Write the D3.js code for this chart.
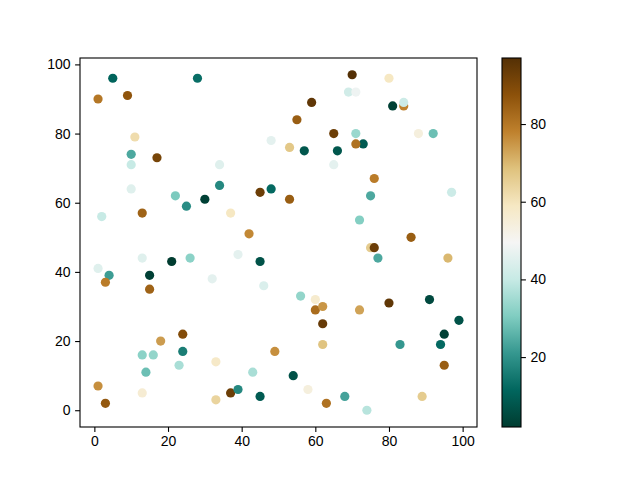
<!DOCTYPE html>
<html lang="en">
<head>
<meta charset="UTF-8">
<title>Scatter with colorbar</title>
<style>
    body { margin: 0; background: #fff; }
    svg { display: block; }
    text { font-family: 'Liberation Sans', Arial, sans-serif; font-size: 14px; fill: #000; }
</style>
</head>
<body>
<svg id="chart" width="640" height="480"></svg>
<script src="https://d3js.org/d3.v7.min.js"></script>
<script>
    // point data, in drawing order (later points sit on top)
    const xs = [5, 28, 1, 9, 11, 10, 10, 17, 10, 2, 13, 22, 25, 30, 34, 34, 37, 42, 45, 48, 48,
        70, 80, 69, 71, 59, 81, 84, 84, 55, 65, 71, 88, 92, 53, 57, 66, 73, 71, 65, 53, 76, 75, 97, 72, 86,
        13, 21, 26, 39, 45, 1, 4, 3, 15, 15, 32, 46, 18, 24, 24, 13, 16, 14, 23, 33, 49, 43, 1, 3, 13, 37, 39, 33, 45,
        75, 76, 77, 96, 56, 60, 60, 62, 72, 80, 91, 99, 62, 95, 62, 83, 94, 95, 54, 58, 68, 89, 63, 74];
    const ys = [96, 96, 90, 91, 79, 74, 71, 73, 64, 56, 57, 62, 59, 61, 65, 71, 57, 51, 63, 64, 78,
        97, 96, 92, 92, 89, 88, 88, 89, 84, 80, 80, 80, 80, 76, 75, 75, 77, 77, 71, 61, 67, 62, 63, 55, 50,
        44, 43, 44, 45, 43, 41, 39, 37, 39, 35, 38, 36, 20, 22, 17, 16, 16, 11, 13, 14, 17, 11, 7, 2, 5, 5, 6, 3, 4,
        47, 47, 44, 44, 33, 32, 29, 30, 29, 31, 32, 26, 25, 22, 19, 19, 19, 13, 10, 6, 4, 4, 2, 0];
    const cs = [11, 13, 80, 87, 62, 24, 40, 91, 45, 40, 84, 30, 19, 3, 18, 45, 59, 77, 93, 12, 46,
        97, 59, 42, 48, 95, 3, 78, 41, 85, 93, 34, 54, 28, 67, 8, 8, 9, 81, 46, 85, 79, 24, 41, 31, 85,
        45, 2, 32, 46, 7, 45, 22, 79, 3, 84, 46, 44, 74, 89, 16, 32, 33, 28, 36, 58, 76, 36, 76, 86, 56, 93, 18, 64, 9,
        66, 93, 24, 70, 33, 57, 82, 75, 73, 95, 5, 7, 94, 3, 68, 21, 12, 85, 7, 54, 23, 66, 81, 38];

    const xTicks = [0, 20, 40, 60, 80, 100];
    const yTicks = [0, 20, 40, 60, 80, 100];
    const cTicks = [20, 40, 60, 80];

    // matplotlib BrBG, reversed (green at the low end)
    const brbgR = ['#003c30', '#01665e', '#35978f', '#80cdc1', '#c7eae5', '#f5f5f5',
        '#f6e8c3', '#dfc27d', '#bf812d', '#8c510a', '#543005'];

    const svg = d3.select('#chart');

    const ax = { left: 80, right: 477, top: 58, bottom: 427 };
    const cb = { left: 502, right: 521, top: 58, bottom: 427 };

    function padded(vals) {
        const [lo, hi] = d3.extent(vals);
        const m = (hi - lo) * 0.05;
        return [lo - m, hi + m];
    }

    const x = d3.scaleLinear().domain(padded(xs)).range([ax.left, ax.right]);
    const y = d3.scaleLinear().domain(padded(ys)).range([ax.bottom, ax.top]);

    const cExtent = d3.extent(cs);
    const stops = d3.range(brbgR.length).map(i => cExtent[0] + (cExtent[1] - cExtent[0]) * i / (brbgR.length - 1));
    const color = d3.scaleLinear().domain(stops).range(brbgR).interpolate(d3.interpolateRgb);

    // points
    svg.append('g')
        .selectAll('circle')
        .data(d3.range(xs.length))
        .join('circle')
        .attr('cx', i => x(xs[i]))
        .attr('cy', i => y(ys[i]))
        .attr('r', 4.6)
        .attr('fill', i => color(cs[i]));

    // axes frame
    svg.append('rect')
        .attr('x', ax.left).attr('y', ax.top)
        .attr('width', ax.right - ax.left).attr('height', ax.bottom - ax.top)
        .attr('fill', 'none').attr('stroke', '#000').attr('stroke-width', 1.1);

    const xAxis = svg.append('g')
        .attr('transform', `translate(0,${ax.bottom})`)
        .call(d3.axisBottom(x).tickValues(xTicks).tickSize(4.9).tickPadding(4.5));
    const yAxis = svg.append('g')
        .attr('transform', `translate(${ax.left},0)`)
        .call(d3.axisLeft(y).tickValues(yTicks).tickSize(4.9).tickPadding(4.5));

    // colorbar
    const cy = d3.scaleLinear().domain(cExtent).range([cb.bottom, cb.top]);
    const grad = svg.append('defs').append('linearGradient')
        .attr('id', 'cmap')
        .attr('x1', 0).attr('y1', 1).attr('x2', 0).attr('y2', 0);
    grad.selectAll('stop')
        .data(brbgR)
        .join('stop')
        .attr('offset', (d, i) => i / (brbgR.length - 1))
        .attr('stop-color', d => d);

    svg.append('rect')
        .attr('x', cb.left).attr('y', cb.top)
        .attr('width', cb.right - cb.left).attr('height', cb.bottom - cb.top)
        .attr('fill', 'url(#cmap)')
        .attr('stroke', '#000').attr('stroke-width', 1.1);

    const cAxis = svg.append('g')
        .attr('transform', `translate(${cb.right},0)`)
        .call(d3.axisRight(cy).tickValues(cTicks).tickSize(4.9).tickPadding(4.5));

    [xAxis, yAxis, cAxis].forEach(g => {
        g.select('.domain').remove();
        g.selectAll('.tick line').attr('stroke', '#000').attr('stroke-width', 1.1);
        g.selectAll('.tick text').attr('fill', '#000')
            .style('font-family', "'Liberation Sans', Arial, sans-serif")
            .style('font-size', '14px');
    });
</script>
</body>
</html>
